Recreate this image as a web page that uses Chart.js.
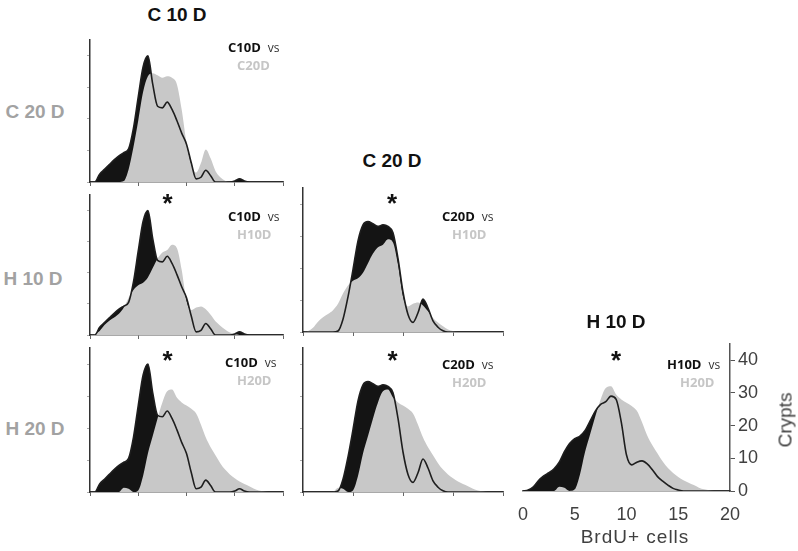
<!DOCTYPE html>
<html>
<head>
<meta charset="utf-8">
<script src="https://cdn.jsdelivr.net/npm/chart.js@4.4.1/dist/chart.umd.min.js"></script>
<style>
  body { margin: 0; background: #fff; }
  #fig { position: relative; width: 798px; height: 551px; overflow: hidden; font-family: "Liberation Sans", Arial, sans-serif; }
  #fig canvas { position: absolute; }
  .t { position: absolute; white-space: nowrap; line-height: 1; }
</style>
</head>
<body>
<div id="fig"></div>
<script>
// BrdU+ cells per crypt (x) and crypt counts (y)
const binsX = [0, 0.5, 1, 1.5, 2, 2.5, 3, 3.5, 4, 4.5, 5, 5.5, 6, 6.5, 7, 7.5, 8, 8.5, 9, 9.5,
  10, 10.5, 11, 11.5, 12, 12.5, 13, 13.5, 14, 14.5, 15, 15.5, 16, 16.5, 17, 17.5, 18, 18.5, 19, 19.5, 20];
const c10d = [0, 0, 2.5, 4, 5.5, 7, 8.3, 9.3, 10.5, 17, 27, 36.5, 40, 31, 24, 23.5, 25.3, 23, 19.5, 15.5,
  12, 6, 1, 1.5, 3.7, 2, 0, 0, 0, 0, 0.3, 1, 0.3, 0, 0, 0, 0, 0, 0, 0, 0];
const c20d = [0, 0, 0, 0, 0, 0, 0, 0.3, 4, 11, 19.5, 28.5, 33.5, 34.5, 33.8, 33, 33.5, 33, 31, 23,
  12.5, 5.5, 3, 6, 10.3, 7.5, 3.5, 1.5, 0.4, 0, 0, 0, 0, 0, 0, 0, 0, 0, 0, 0, 0];
const h10d = [0, 0.3, 1.3, 3.2, 4.6, 5.6, 6.8, 8.8, 12, 14.5, 16, 16.8, 18.5, 21.5, 24.5, 26.5, 27.3, 29, 28, 21,
  11, 8, 8.8, 9.2, 8.3, 6.5, 4.4, 3, 1.8, 0.8, 0.3, 0, 0, 0, 0, 0, 0, 0, 0, 0, 0];
const h20d = [0, 0, 0, 0, 0, 0, 0, 1.3, 1, 0, 0.5, 5, 12, 17.5, 23, 28, 31.5, 32, 29.5, 28,
  27, 26, 24.5, 21, 17, 14, 11.5, 9, 7, 5.5, 4.3, 3.3, 2.5, 1.8, 1, 0.5, 0.2, 0, 0, 0, 0];
const xTicks = [0, 5, 10, 15, 20];
const yTicks = [0, 10, 20, 30, 40];

const BLACK = '#141414';
const GREY = '#c8c8c8';
const fig = document.getElementById('fig');
Chart.defaults.font.family = '"Liberation Sans", Arial, sans-serif';

const pts = arr => binsX.map((x, i) => ({ x: x, y: arr[i] }));

function datasets(black, grey) {
  const base = { pointRadius: 0, cubicInterpolationMode: 'monotone' };
  return [
    Object.assign({ data: pts(black), borderColor: '#1e1e1e', borderWidth: 1.6, fill: false, order: 1 }, base),
    Object.assign({ data: pts(grey), borderColor: 'rgba(0,0,0,0)', borderWidth: 0, backgroundColor: GREY, fill: 'origin', order: 2 }, base),
    Object.assign({ data: pts(black), borderColor: 'rgba(0,0,0,0)', borderWidth: 0, backgroundColor: BLACK, fill: 'origin', order: 3 }, base)
  ];
}

function keepTicks(list) {
  return scale => { scale.ticks = list.map(v => ({ value: v })); };
}

function addCanvas(left, top, w, h) {
  const c = document.createElement('canvas');
  c.width = w; c.height = h;
  c.style.left = left + 'px'; c.style.top = top + 'px';
  c.style.width = w + 'px'; c.style.height = h + 'px';
  fig.appendChild(c);
  return c;
}

// small panels: [black series, grey series, plot left, right, top, bottom]
const panels = [
  [c10d, c20d, 90, 283, 40, 182],
  [c10d, h10d, 90, 283, 195, 335],
  [c10d, h20d, 90, 283, 348, 492],
  [c20d, h10d, 303, 503, 188, 332],
  [c20d, h20d, 303, 503, 348, 492]
];

panels.forEach(([blk, gry, l, r, t, b]) => {
  const cv = addCanvas(l - 10, t - 6, r - l + 18, b - t + 14);
  new Chart(cv, {
    type: 'line',
    data: { datasets: datasets(blk, gry) },
    options: {
      responsive: false, animation: false, events: [],
      layout: { padding: { top: 6, right: 8, left: 0, bottom: 0 } },
      plugins: { legend: { display: false }, tooltip: { enabled: false } },
      scales: {
        x: {
          type: 'linear', min: 0, max: 20,
          afterBuildTicks: keepTicks(xTicks),
          ticks: { display: false },
          grid: { drawOnChartArea: false, tickLength: 4, color: '#666' },
          border: { color: '#555', width: 1.5 },
          afterFit: s => { s.height = 8; }
        },
        y: {
          min: 0, max: 45,
          afterBuildTicks: keepTicks(yTicks),
          ticks: { display: false },
          grid: { drawOnChartArea: false, tickLength: 3, color: '#aaa' },
          border: { color: '#333', width: 1.5 },
          afterFit: s => { s.width = 10; }
        }
      }
    }
  });
});

// bottom-right panel with visible axes
{
  const cv = addCanvas(505, 330, 293, 221);
  new Chart(cv, {
    type: 'line',
    data: { datasets: datasets(h10d, h20d) },
    options: {
      responsive: false, animation: false, events: [],
      layout: { padding: { top: 8, left: 17, right: 0, bottom: 0 } },
      plugins: { legend: { display: false }, tooltip: { enabled: false } },
      scales: {
        x: {
          type: 'linear', min: 0, max: 20,
          afterBuildTicks: keepTicks(xTicks),
          ticks: { color: '#404040', font: { size: 18 }, padding: 13, maxRotation: 0 },
          grid: { drawOnChartArea: false, drawTicks: false },
          border: { color: '#666', width: 1.5 },
          afterFit: s => { s.height = 60; }
        },
        y: {
          position: 'right', min: 0, max: 45,
          afterBuildTicks: keepTicks(yTicks),
          ticks: { color: '#404040', font: { size: 18 }, padding: 3 },
          grid: { drawOnChartArea: false, tickLength: 5, color: '#555' },
          border: { color: '#555', width: 1.5 },
          afterFit: s => { s.width = 68; }
        }
      }
    }
  });
}

// text: x, baseline, anchor ('c' centre / 'l' left)
function text(str, x, base, size, css, anchor, fam) {
  const d = document.createElement('div');
  d.className = 't';
  d.innerHTML = str;
  const k = fam === 'open' ? 0.888 : 0.8465;
  d.style.fontSize = size + 'px';
  if (fam === 'open') d.style.fontFamily = '"Open Sans", sans-serif';
  d.style.top = (base - k * size) + 'px';
  d.style.left = x + 'px';
  if (anchor === 'c') d.style.transform = 'translateX(-50%)';
  if (css) d.style.cssText += css;
  fig.appendChild(d);
  return d;
}

// column titles
text('C 10 D', 177, 21, 19, 'font-weight:bold;color:#111;', 'c');
text('C 20 D', 392, 167, 19, 'font-weight:bold;color:#111;', 'c');
text('H 10 D', 616, 328, 19, 'font-weight:bold;color:#111;', 'c');
// row titles
text('C 20 D', 35, 118, 19, 'font-weight:bold;color:#a2a2a2;', 'c');
text('H 10 D', 33, 285, 19, 'font-weight:bold;color:#a2a2a2;', 'c');
text('H 20 D', 35, 435, 19, 'font-weight:bold;color:#a2a2a2;', 'c');

// per-panel legends
const legends = [
  ['C10D', 'C20D', 228, 53, 237],
  ['C10D', 'H10D', 228, 222, 237],
  ['C10D', 'H20D', 225, 368, 237],
  ['C20D', 'H10D', 442, 222, 452],
  ['C20D', 'H20D', 442, 370, 452],
  ['H10D', 'H20D', 667, 370, 680]
];
legends.forEach(([a, b, x1, y1, x2]) => {
  text('<b style="color:#111">' + a + '</b><span style="color:#333;font-size:12px;margin-left:7px">vs</span>', x1, y1, 13, '', 'l', 'open');
  text(b, x2, y1 + 17.5, 13, 'font-weight:bold;color:#c6c6c6;', 'l', 'open');
});

// significance marks (glyph top + 18.6)
[[167.5, 193], [167.5, 350], [392, 193], [392.5, 350], [616, 350]].forEach(([x, y]) => {
  text('*', x, y + 18.6, 26, 'font-weight:bold;color:#111;', 'c');
});

// axis titles of the bottom-right panel
text('BrdU+ cells', 635, 543, 19, 'color:#404040;letter-spacing:1px;', 'c');
const yt = text('Crypts', 785, 420, 19, 'color:#404040;', 'l');
yt.style.top = '420px';
yt.style.transform = 'translate(-50%,-50%) rotate(-90deg)';
</script>
</body>
</html>
